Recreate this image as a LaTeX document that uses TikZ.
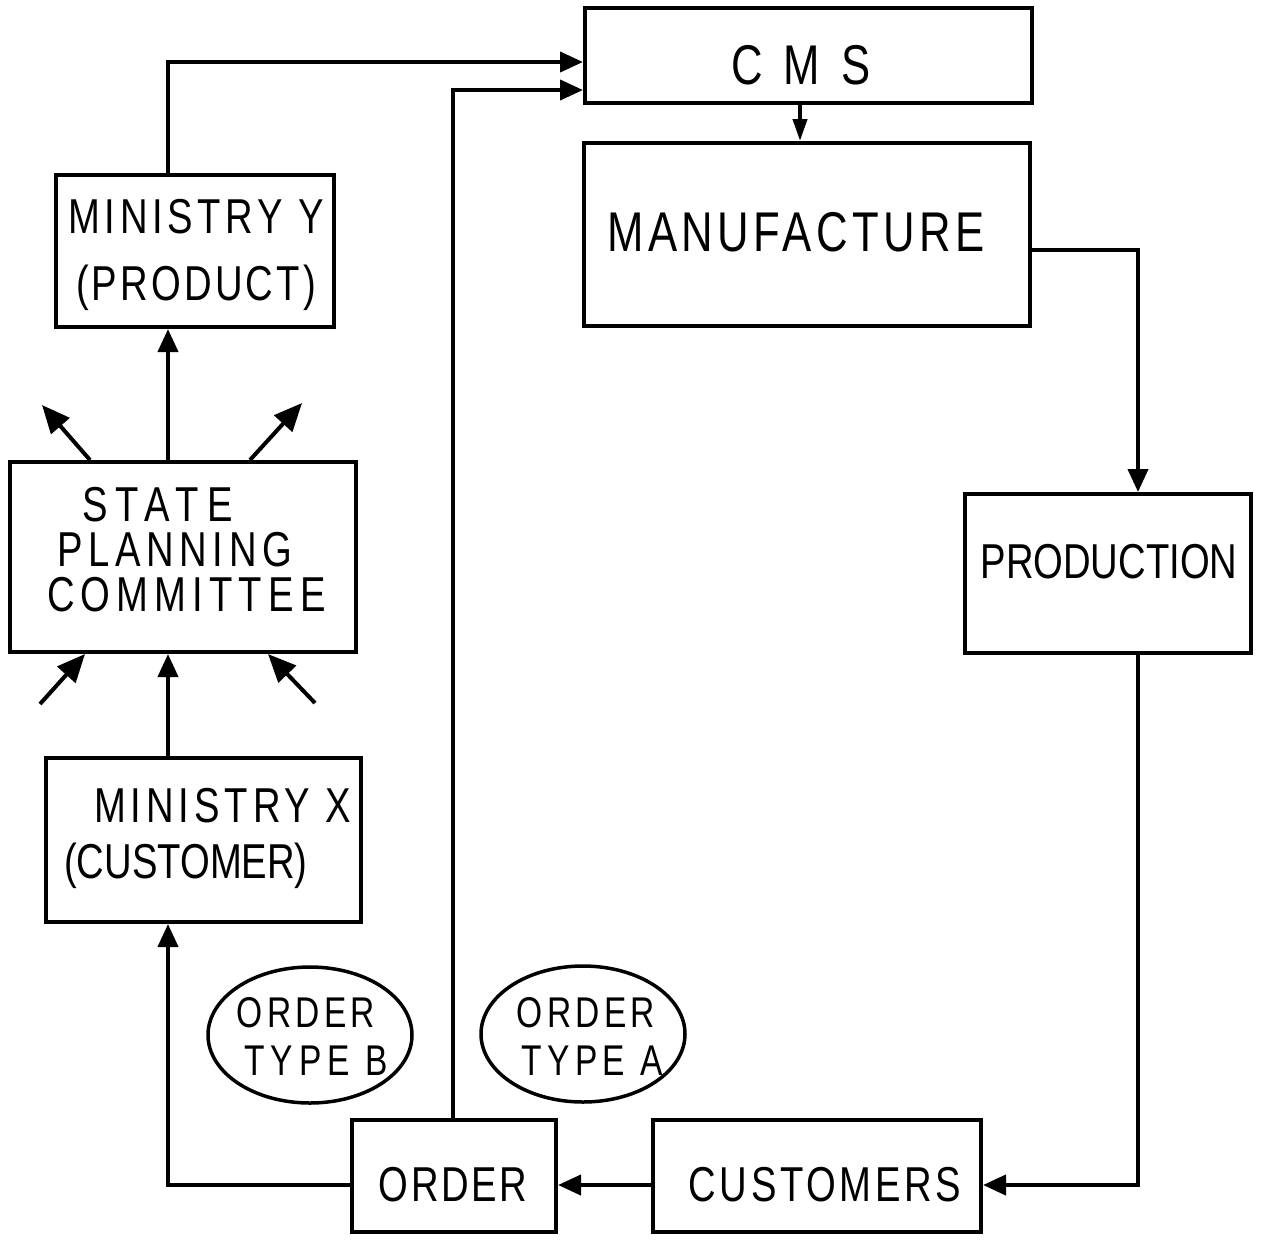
\documentclass[tikz,border=0pt]{standalone}
\usepackage{fontspec}
\setmainfont{Liberation Sans}[FakeStretch=0.78]
\usetikzlibrary{arrows.meta,shapes.geometric}
\newcommand{\lsp}[2]{{\addfontfeatures{LetterSpace=#1}#2}}
\tikzset{
  boxnode/.style={draw, line width=4pt, rectangle, inner sep=0pt},
  txt/.style={inner sep=0pt, align=center, font=\fontsize{49}{56}\selectfont},
  etxt/.style={inner sep=0pt, font=\fontsize{43}{48}\selectfont},
  ell/.style={draw, ellipse, line width=3.5pt, inner sep=0pt, minimum width=204pt, minimum height=136pt},
  arr/.style={line width=4pt, -{Triangle[length=23pt,width=20pt]}},
  sarr/.style={line width=4pt, -{Triangle[length=22pt,width=14pt]}},
  darr/.style={line width=4pt, -{Triangle[length=28pt,width=24pt]}},
}
\begin{document}
\begin{tikzpicture}[x=1pt,y=-1pt]
\useasboundingbox (0,0) rectangle (1261,1243);
% boxes
\node[boxnode, minimum width=447pt, minimum height=95pt] (cms) at (808.5,55.5) {};
\node[boxnode, minimum width=446pt, minimum height=183pt] (man) at (807,234.5) {};
\node[boxnode, minimum width=286pt, minimum height=159pt] (prod) at (1108,573.5) {};
\node[boxnode, minimum width=328pt, minimum height=112pt] (cust) at (817,1176) {};
\node[boxnode, minimum width=204pt, minimum height=112pt] (order) at (454,1176) {};
\node[boxnode, minimum width=315pt, minimum height=164pt] (minX) at (203.5,840) {};
\node[boxnode, minimum width=346pt, minimum height=190pt] (spc) at (183,557) {};
\node[boxnode, minimum width=278pt, minimum height=152pt] (minY) at (195,251) {};
% texts
\node[txt, font=\fontsize{56}{60}\selectfont] (cmsT) at (801,65) {C\hspace{21pt}M\hspace{21pt}S};
\node[txt, font=\fontsize{56}{60}\selectfont] (manT) at (796,232) {\lsp{8}{MANUFACTURE}};
\node[txt] (prodT) at (1109,562) {PRODUCTION};
\node[txt] (custT) at (825,1185) {\lsp{7.5}{CUSTOMERS}};
\node[txt] (ordT) at (453,1185) {\lsp{5.5}{ORDER}};
\node[txt, font=\fontsize{49}{67}\selectfont] (minYT) at (196,255) {\lsp{9.5}{MINISTRY Y}\\\lsp{6.5}{(PRODUCT)}};
\node[txt, align=left, anchor=west, font=\fontsize{49}{45}\selectfont] (spcT) at (47,550) {\hspace*{35pt}\lsp{17}{STATE}\\\hspace*{10pt}\lsp{11.5}{PLANNING}\\\lsp{12.5}{COMMITTEE}};
\node[txt, align=left, anchor=west, font=\fontsize{49}{56}\selectfont] (minXT) at (64,838) {\hspace*{30pt}\lsp{10}{MINISTRY X}\\(CUSTOMER)};
% ellipses
\node[ell] (ellB) at (310,1035) {};
\node[ell] (ellA) at (583,1034) {};
\node[etxt] (ellB1) at (306,1013) {\lsp{10}{ORDER}};
\node[etxt] (ellB2) at (316,1061) {\lsp{14}{TYPE B}};
\node[etxt] (ellA1) at (586,1013) {\lsp{10}{ORDER}};
\node[etxt] (ellA2) at (592,1061) {\lsp{12.5}{TYPE A}};
% free ends of the side arrows
\coordinate (d1) at (42,405);
\coordinate (d2) at (302,403);
\coordinate (d3) at (40,704);
\coordinate (d4) at (315,703);
% connectors
\draw[arr] (minY.north -| 168,0) |- (cms.west |- 0,62);
\draw[arr] (order.north -| 453,0) |- (cms.west |- 0,90);
\draw[sarr] (cms.south -| 800,0) -- (man.north -| 800,0);
\draw[arr] (man.east |- 0,250) -| (prod.north -| 1138,0);
\draw[arr] (prod.south -| 1138,0) |- (cust.east |- 0,1185);
\draw[arr] (cust.west |- 0,1185) -- (order.east |- 0,1185);
\draw[arr] (order.west |- 0,1185) -| (minX.south -| 168,0);
\draw[arr] (minX.north -| 168,0) -- (spc.south -| 168,0);
\draw[arr] (spc.north -| 168,0) -- (minY.south -| 168,0);
\draw[darr] (spc.north -| 90,0) -- (d1);
\draw[darr] (spc.north -| 250,0) -- (d2);
\draw[darr] (d3) -- (spc.south -| 85,0);
\draw[darr] (d4) -- (spc.south -| 268,0);
\end{tikzpicture}
\end{document}
